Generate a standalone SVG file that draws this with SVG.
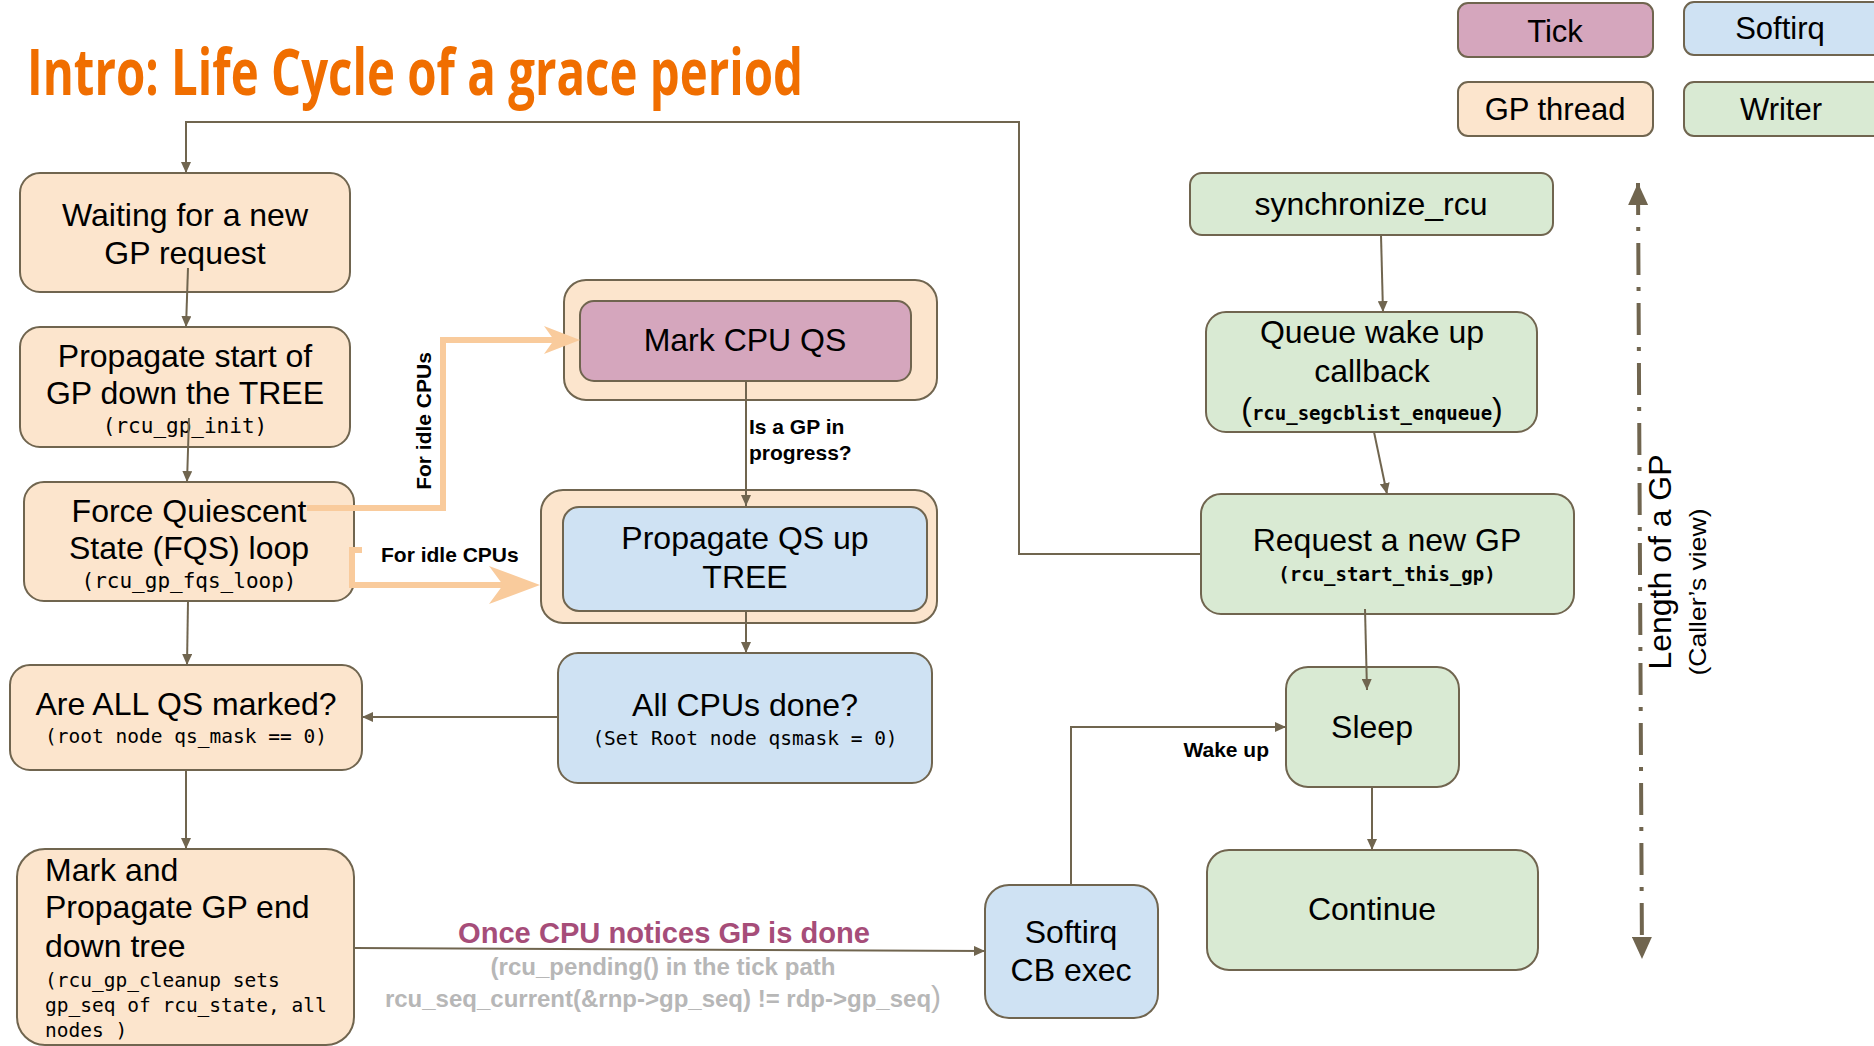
<svg xmlns="http://www.w3.org/2000/svg" width="1874" height="1046" viewBox="0 0 1874 1046">
  <defs>
    <style>
      .box { stroke: #70654f; stroke-width: 2; }
      .peach { fill: #fce5cd; }
      .pink { fill: #d5a6bd; }
      .blue { fill: #cfe2f3; }
      .green { fill: #d9ead3; }
      text { font-family: "Liberation Sans", Arial, sans-serif; fill: #000; }
      .title { font-family: "Liberation Sans Narrow", "Open Sans", sans-serif; font-weight: bold; font-size: 64px; fill: #f06e00; }
      .t { font-size: 32px; text-anchor: middle; }
      .tl { font-size: 32px; }
      .leg { font-size: 31px; text-anchor: middle; }
      .m { font-family: "DejaVu Sans Mono", "Liberation Mono", monospace; font-size: 21px; text-anchor: middle; }
      .ms { font-family: "DejaVu Sans Mono", "Liberation Mono", monospace; font-size: 19.5px; }
      .mb { font-family: "DejaVu Sans Mono", "Liberation Mono", monospace; font-size: 19px; font-weight: bold; }
      .lbl { font-size: 21px; font-weight: bold; }
      .done { font-size: 29px; font-weight: bold; fill: #a64d79; text-anchor: middle; }
      .path-note { font-size: 24px; font-weight: bold; fill: #b7b7b7; text-anchor: middle; }
      .conn { fill: none; stroke: #70654f; stroke-width: 2; marker-end: url(#head); }
      .idle { fill: none; stroke: #f9cb9c; stroke-width: 6; }
      .idlehead { fill: #f9cb9c; }
      .span { fill: none; stroke: #70654f; stroke-width: 4; stroke-dasharray: 32 12 4 12; marker-start: url(#bighead); marker-end: url(#bighead); }
    </style>
    <marker id="head" markerUnits="userSpaceOnUse" viewBox="0 0 11 10" markerWidth="11" markerHeight="10" refX="11" refY="5" orient="auto">
      <path d="M0,0 L11,5 L0,10 z" fill="#70654f"/>
    </marker>
    <marker id="bighead" markerUnits="userSpaceOnUse" viewBox="0 0 22 20" markerWidth="22" markerHeight="20" refX="22" refY="10" orient="auto-start-reverse">
      <path d="M0,0 L22,10 L0,20 z" fill="#70654f"/>
    </marker>
  </defs>

  <rect width="1874" height="1046" fill="#ffffff"/>

  <!-- title -->
  <text class="title" x="27" y="95" textLength="776" lengthAdjust="spacingAndGlyphs">Intro: Life Cycle of a grace period</text>

  <!-- legend -->
  <g id="legend-tick">
    <rect class="box pink" x="1458" y="3" width="195" height="54" rx="10"/>
    <text class="leg" x="1555" y="42">Tick</text>
  </g>
  <g id="legend-softirq">
    <rect class="box blue" x="1684" y="2" width="210" height="53" rx="10"/>
    <text class="leg" x="1780" y="39">Softirq</text>
  </g>
  <g id="legend-gp-thread">
    <rect class="box peach" x="1458" y="82" width="195" height="54" rx="10"/>
    <text class="leg" x="1555" y="120">GP thread</text>
  </g>
  <g id="legend-writer">
    <rect class="box green" x="1684" y="82" width="210" height="54" rx="10"/>
    <text class="leg" x="1781" y="120">Writer</text>
  </g>

  <!-- GP thread column -->
  <g id="waiting">
    <rect class="box peach" x="20" y="173" width="330" height="119" rx="20"/>
    <text class="t" x="185" y="226">Waiting for a new</text>
    <text class="t" x="185" y="264">GP request</text>
  </g>
  <g id="gp-init">
    <rect class="box peach" x="20" y="327" width="330" height="120" rx="20"/>
    <text class="t" x="185" y="367">Propagate start of</text>
    <text class="t" x="185" y="404">GP down the TREE</text>
    <text class="m" x="185" y="433">(rcu_gp_init)</text>
  </g>
  <g id="fqs-loop">
    <rect class="box peach" x="24" y="482" width="330" height="119" rx="20"/>
    <text class="t" x="189" y="522">Force Quiescent</text>
    <text class="t" x="189" y="559">State (FQS) loop</text>
    <text class="m" x="189" y="588">(rcu_gp_fqs_loop)</text>
  </g>
  <g id="all-qs">
    <rect class="box peach" x="10" y="665" width="352" height="105" rx="20"/>
    <text class="t" x="186" y="715">Are ALL QS marked?</text>
    <text class="ms" x="186" y="743" text-anchor="middle">(root node qs_mask == 0)</text>
  </g>
  <g id="gp-end">
    <rect class="box peach" x="17" y="849" width="337" height="196" rx="28"/>
    <text class="tl" x="45" y="881">Mark and</text>
    <text class="tl" x="45" y="918">Propagate GP end</text>
    <text class="tl" x="45" y="957">down tree</text>
    <text class="ms" x="45" y="987">(rcu_gp_cleanup sets</text>
    <text class="ms" x="45" y="1012">gp_seq of rcu_state, all</text>
    <text class="ms" x="45" y="1037">nodes )</text>
  </g>

  <!-- per-CPU work -->
  <g id="mark-cpu-qs">
    <rect class="box peach" x="564" y="280" width="373" height="120" rx="22"/>
    <rect class="box pink" x="580" y="301" width="331" height="80" rx="14"/>
    <text class="t" x="745" y="351">Mark CPU QS</text>
  </g>
  <g id="propagate-qs">
    <rect class="box peach" x="541" y="490" width="396" height="133" rx="22"/>
    <rect class="box blue" x="563" y="507" width="364" height="104" rx="16"/>
    <text class="t" x="745" y="549">Propagate QS up</text>
    <text class="t" x="745" y="588">TREE</text>
  </g>
  <g id="all-cpus-done">
    <rect class="box blue" x="558" y="653" width="374" height="130" rx="20"/>
    <text class="t" x="745" y="716">All CPUs done?</text>
    <text class="ms" x="745" y="745" text-anchor="middle">(Set Root node qsmask = 0)</text>
  </g>
  <g id="softirq-cb">
    <rect class="box blue" x="985" y="885" width="173" height="133" rx="24"/>
    <text class="t" x="1071" y="943">Softirq</text>
    <text class="t" x="1071" y="981">CB exec</text>
  </g>

  <!-- writer column -->
  <g id="synchronize-rcu">
    <rect class="box green" x="1190" y="173" width="363" height="62" rx="12"/>
    <text class="t" x="1371" y="215">synchronize_rcu</text>
  </g>
  <g id="queue-cb">
    <rect class="box green" x="1206" y="312" width="331" height="120" rx="20"/>
    <text class="t" x="1372" y="343">Queue wake up</text>
    <text class="t" x="1372" y="382">callback</text>
    <text x="1372" y="420" text-anchor="middle"><tspan font-size="32">(</tspan><tspan class="mb">rcu_segcblist_enqueue</tspan><tspan font-size="32">)</tspan></text>
  </g>
  <g id="request-gp">
    <rect class="box green" x="1201" y="494" width="373" height="120" rx="20"/>
    <text class="t" x="1387" y="551">Request a new GP</text>
    <text class="mb" x="1387" y="581" text-anchor="middle">(rcu_start_this_gp)</text>
  </g>
  <g id="sleep">
    <rect class="box green" x="1286" y="667" width="173" height="120" rx="22"/>
    <text class="t" x="1372" y="738">Sleep</text>
  </g>
  <g id="continue">
    <rect class="box green" x="1207" y="850" width="331" height="120" rx="22"/>
    <text class="t" x="1372" y="920">Continue</text>
  </g>

  <!-- connectors -->
  <g id="connectors">
    <path class="conn" d="M1201,554 H1019 V122 H186 V173"/>
    <path class="conn" d="M188,268 L186,327"/>
    <path class="conn" d="M189,418 L187,482"/>
    <path class="conn" d="M188,601 L187,665"/>
    <path class="conn" d="M186,770 L186,849"/>
    <path class="conn" d="M746,381 V506"/>
    <path class="conn" d="M746,611 V653"/>
    <path class="conn" d="M558,717 H362"/>
    <path class="conn" d="M354,948 L985,951"/>
    <path class="conn" d="M1071,885 V727 H1286"/>
    <path class="conn" d="M1372,787 V850"/>
    <path class="conn" d="M1381,235 L1383,312"/>
    <path class="conn" d="M1374,432 L1387,494"/>
    <path class="conn" d="M1365,609 L1367,690"/>

    <!-- idle-CPU paths -->
    <path class="idle" d="M307,508 H443 V340 H556"/>
    <polygon class="idlehead" points="580,340 544,326 554,340 544,354"/>
    <path class="idle" d="M362,550 H352 V585 H505"/>
    <polygon class="idlehead" points="540,585 489,566 503,585 489,604"/>

    <!-- caller-side span of a grace period -->
    <path class="span" d="M1638,183 L1642,959"/>
  </g>

  <!-- connector labels -->
  <text class="lbl" transform="translate(431,421) rotate(-90)" text-anchor="middle">For idle CPUs</text>
  <text class="lbl" x="381" y="562">For idle CPUs</text>
  <text class="lbl" x="749" y="434">Is a GP in</text>
  <text class="lbl" x="749" y="460">progress?</text>
  <text class="lbl" x="1269" y="757" text-anchor="end">Wake up</text>
  <text class="done" x="664" y="943" textLength="412" lengthAdjust="spacingAndGlyphs">Once CPU notices GP is done</text>
  <text class="path-note" x="663" y="975" textLength="345" lengthAdjust="spacingAndGlyphs">(rcu_pending() in the tick path</text>
  <text class="path-note" x="663" y="1007">rcu_seq_current(&amp;rnp-&gt;gp_seq) != rdp-&gt;gp_seq<tspan font-size="30" font-weight="normal">)</tspan></text>
  <text transform="translate(1671,562) rotate(-90)" text-anchor="middle" font-size="32" textLength="215" lengthAdjust="spacingAndGlyphs">Length of a GP</text>
  <text transform="translate(1706,592) rotate(-90)" text-anchor="middle" font-size="24" textLength="167" lengthAdjust="spacingAndGlyphs">(Caller’s view)</text>
</svg>
